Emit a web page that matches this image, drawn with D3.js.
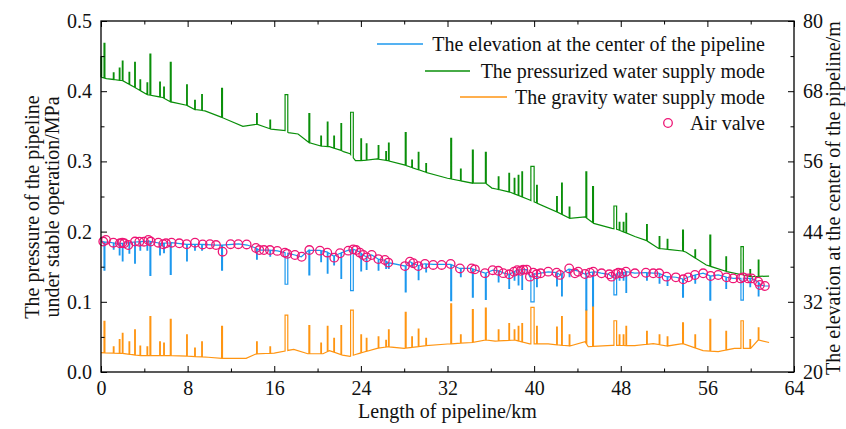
<!DOCTYPE html>
<html>
<head>
<meta charset="utf-8">
<script src="https://cdn.jsdelivr.net/npm/d3@7"></script>
<style>
  html, body { margin: 0; padding: 0; background: #fff; }
  svg { display: block; font-family: 'Liberation Serif', 'Times New Roman', Times, serif; }
  svg text { font-family: 'Liberation Serif', 'Times New Roman', Times, serif; fill: #111; }
</style>
</head>
<body>
<svg id="chart" width="846" height="429"></svg>
<script>
// ---------------- DATA ----------------
const xTicks = [0, 8, 16, 24, 32, 40, 48, 56, 64];
const leftTicks = [0.0, 0.1, 0.2, 0.3, 0.4, 0.5];
const rightTicks = [20, 32, 44, 56, 68, 80];

const legendLabels = [
  "The elevation at the center of the pipeline",
  "The pressurized water supply mode",
  "The gravity water supply mode",
  "Air valve"
];

// crossings (spikes): km position, width (km)
const spikeKm = [0.0, 0.28, 1.14, 1.69, 1.97, 2.59, 3.11, 3.6, 4.25, 4.52, 5.42, 5.79, 6.4, 7.91, 8.65, 9.3, 11.14, 14.37, 15.6, 17.0,
  19.2, 20.3, 20.9, 21.5, 22.16, 23.05, 24.0, 24.5, 25.6, 26.3, 26.55, 28.1, 28.7, 29.3, 30.0, 32.3, 33.2, 34.3, 35.5, 36.69,
  37.67, 38.16, 38.53, 38.87, 39.7, 40.23, 42.08, 42.54, 43.24, 44.78, 45.4, 47.37, 47.86, 48.23, 48.48, 50.39, 51.55, 52.29, 53.71, 54.85,
  56.23, 57.71, 59.1, 59.93, 60.7];
const spikeW = [0.06, 0.08, 0.06, 0.06, 0.06, 0.06, 0.06, 0.06, 0.06, 0.08, 0.06, 0.06, 0.08, 0.06, 0.06, 0.06, 0.08, 0.06, 0.06, 0.25,
  0.08, 0.06, 0.06, 0.06, 0.06, 0.25, 0.06, 0.06, 0.06, 0.06, 0.06, 0.08, 0.06, 0.06, 0.06, 0.08, 0.06, 0.08, 0.08, 0.06,
  0.06, 0.06, 0.06, 0.06, 0.3, 0.06, 0.06, 0.06, 0.06, 0.08, 0.08, 0.25, 0.06, 0.06, 0.06, 0.06, 0.06, 0.06, 0.08, 0.06,
  0.08, 0.06, 0.22, 0.06, 0.06];
// elevation at the dip bottom (m)
const elevDip = [null, 37.4, 41.0, 40.0, 39.0, 40.3, 38.6, 40.85, 40.85, 36.5, 40.0, 40.4, 36.7, 39.0, 40.85, 40.85, 37.4, 39.3, 39.8, 35.0,
  36.6, 38.85, 36.9, 38.3, 36.0, 33.9, 37.3, 37.55, 37.4, 37.7, 37.7, 33.7, 38.0, 35.8, 37.1, 32.2, 36.3, 32.8, 32.4, 35.4,
  34.3, 35.7, 34.9, 34.1, 32.0, 34.6, 34.7, 33.0, 36.3, 30.6, 31.3, 33.2, 35.7, 35.7, 33.6, 35.7, 35.2, 34.8, 32.8, 35.2,
  32.3, 34.3, 32.3, 34.6, 33.0];
// pressurized mode peak (MPa)
const pressPeak = [0.449, 0.468, 0.426, 0.433, 0.443, 0.427, 0.441, 0.416, 0.412, 0.453, 0.413, 0.406, 0.441, 0.409, 0.387, 0.395, 0.404, 0.368, 0.359, 0.395,
  0.368, 0.336, 0.356, 0.336, 0.354, 0.370, 0.332, 0.325, 0.3225, 0.314, 0.326, 0.341, 0.302, 0.313, 0.297, 0.333, 0.289, 0.316, 0.313, 0.278,
  0.283, 0.276, 0.280, 0.285, 0.293, 0.266, 0.250, 0.269, 0.235, 0.285, 0.264, 0.2365, 0.213, 0.213, 0.226, 0.210, 0.193, 0.189, 0.202, 0.174,
  0.195, 0.164, 0.1785, 0.146, 0.1595];
// gravity mode peak (MPa)
const gravPeak = [null, 0.072, 0.036, 0.046, 0.055, 0.043, 0.060, 0.037, 0.036, 0.079, 0.043, 0.041, 0.075, 0.053, 0.034, 0.043, 0.065, 0.043, 0.036, 0.081,
  0.066, 0.041, 0.065, 0.048, 0.066, 0.088, 0.053, 0.048, 0.050, 0.045, 0.060, 0.085, 0.050, 0.061, 0.048, 0.097, 0.053, 0.089, 0.091, 0.060,
  0.069, 0.060, 0.065, 0.069, 0.092, 0.065, 0.064, 0.079, 0.053, 0.088, 0.093, 0.073, 0.053, 0.053, 0.065, 0.058, 0.053, 0.050, 0.070, 0.053,
  0.075, 0.058, 0.073, 0.046, 0.063];

// baselines between crossings: [km, value]
const elevBase = [[0, 42.3], [1.0, 42.1], [2.0, 42.0], [3.0, 42.2], [4.4, 42.4], [5.5, 42.0], [6.5, 42.1], [7.9, 41.8], [9.4, 41.8], [10.6, 41.7],
  [11.2, 41.7], [12.7, 41.9], [13.5, 41.7], [14.3, 41.2], [14.6, 40.85], [15.6, 40.85], [16.3, 40.7], [17.0, 40.4], [17.9, 40.0], [18.5, 39.7],
  [19.2, 40.85], [20.2, 40.8], [20.9, 40.5], [21.5, 39.8], [22.1, 40.3], [22.8, 40.8], [23.3, 41.0], [23.9, 40.5], [24.2, 40.0], [24.5, 39.7],
  [25.0, 40.0], [25.6, 39.3], [26.2, 39.1], [26.5, 38.7], [28.1, 38.1], [28.5, 38.9], [28.8, 38.6], [29.3, 38.2], [29.9, 38.5], [30.7, 38.4],
  [31.5, 38.4], [32.3, 38.4], [33.1, 37.7], [34.2, 37.7], [34.5, 37.5], [35.5, 36.9], [36.2, 37.4], [36.7, 37.3], [37.2, 36.9], [37.7, 36.7],
  [38.1, 37.1], [38.4, 37.4], [39.0, 37.5], [39.3, 37.5], [39.6, 36.3], [39.9, 36.9], [40.2, 36.7], [40.6, 36.9], [41.3, 37.1], [42.1, 37.0],
  [42.4, 36.6], [43.2, 37.6], [44.0, 37.3], [44.7, 36.75], [45.15, 37.0], [45.5, 37.15], [46.2, 36.9], [46.9, 36.7], [47.15, 36.3], [47.6, 36.75],
  [47.8, 37.0], [48.1, 36.9], [48.5, 37.15], [49.3, 36.9], [50.3, 37.0], [51.0, 36.9], [51.5, 36.9], [52.2, 36.3], [53.1, 36.2], [53.8, 35.85],
  [54.2, 36.2], [54.9, 36.6], [55.6, 36.9], [56.3, 36.4], [57.0, 36.6], [57.8, 36.2], [58.4, 36.0], [59.1, 36.0], [59.8, 36.0], [60.1, 36.0],
  [60.7, 35.4], [60.9, 34.9], [61.3, 34.7], [61.7, 34.7]];
const pressBase = [[0, 0.42], [0.5, 0.418], [2.0, 0.415], [3.1, 0.4055], [4.3, 0.395], [5.7, 0.391], [6.4, 0.385], [7.9, 0.380], [8.65, 0.374], [9.6, 0.372],
  [11.1, 0.363], [13.1, 0.350], [14.4, 0.353], [15.7, 0.346], [17.0, 0.344], [17.3, 0.341], [18.2, 0.339], [19.2, 0.327], [20.3, 0.322], [21.1, 0.321],
  [22.1, 0.316], [22.4, 0.314], [23.0, 0.311], [23.5, 0.301], [24.0, 0.301], [25.5, 0.3035], [26.5, 0.301], [28.0, 0.295], [30.0, 0.2845], [32.0, 0.276],
  [34.3, 0.269], [35.5, 0.269], [36.1, 0.262], [36.5, 0.2607], [37.8, 0.256], [39.6, 0.245], [40.2, 0.241], [42.1, 0.228], [43.3, 0.219], [44.7, 0.221],
  [45.5, 0.2117], [47.2, 0.2047], [47.7, 0.203], [49.3, 0.193], [50.4, 0.187], [51.5, 0.176], [53.7, 0.1724], [54.0, 0.171], [55.9, 0.1524], [57.8, 0.143],
  [60.0, 0.1358], [61.7, 0.1367]];
const gravBase = [[0, 0.0275], [2.0, 0.0265], [3.6, 0.0233], [6.5, 0.0233], [8.0, 0.0225], [9.9, 0.021], [11.2, 0.0194], [13.4, 0.0194], [14.3, 0.0256], [16.0, 0.027],
  [17.8, 0.0323], [19.1, 0.026], [20.5, 0.026], [21.1, 0.0304], [22.3, 0.024], [23.0, 0.0223], [23.5, 0.025], [25.5, 0.0337], [26.5, 0.036], [28.0, 0.0337],
  [30.0, 0.0375], [32.0, 0.0399], [34.3, 0.042], [35.5, 0.0456], [36.4, 0.044], [38.2, 0.0456], [39.6, 0.040], [41.3, 0.040], [43.3, 0.037], [44.7, 0.0432],
  [45.0, 0.036], [47.2, 0.038], [49.3, 0.0375], [51.0, 0.0405], [52.3, 0.037], [53.7, 0.0405], [55.6, 0.0304], [57.0, 0.029], [58.5, 0.0337], [60.0, 0.0337],
  [60.7, 0.0456], [61.7, 0.042]];

// air valves: km and elevation (m)
const airKm = [0.21, 0.46, 1.14, 1.75, 1.97, 2.15, 2.52, 3.14, 3.54, 3.97, 4.37, 4.59, 5.29, 5.75, 6.0, 6.52, 7.23, 7.91, 8.68, 9.39,
  10.06, 10.62, 11.23, 11.97, 12.68, 13.45, 14.31, 14.62, 15.05, 15.6, 16.28, 16.99, 17.2, 17.91, 18.53, 19.24, 20.22, 20.9, 21.54, 22.07,
  22.84, 23.3, 23.55, 23.91, 24.22, 24.53, 25.0, 25.61, 26.22, 26.53, 28.07, 28.53, 28.84, 29.3, 29.92, 30.68, 31.46, 32.29, 33.15, 34.23,
  34.53, 35.46, 36.17, 36.69, 37.15, 37.7, 38.14, 38.44, 38.75, 39.0, 39.31, 39.61, 39.92, 40.23, 40.6, 41.3, 42.08, 42.38, 43.24, 43.77,
  44.07, 44.69, 45.15, 45.46, 46.23, 46.94, 47.15, 47.55, 47.77, 48.08, 48.48, 49.31, 50.32, 51.0, 51.55, 52.23, 53.09, 53.77, 54.23, 54.85,
  55.61, 56.3, 57.0, 57.77, 58.38, 59.07, 59.31, 59.77, 60.08, 60.69, 60.85, 61.31];
const airElev = [42.3, 42.56, 42.1, 42.0, 42.1, 42.0, 41.7, 42.3, 42.27, 42.27, 42.56, 42.3, 42.1, 41.85, 42.0, 42.1, 42.0, 41.85, 42.1, 41.8,
  41.85, 41.7, 40.56, 41.85, 41.85, 41.8, 41.2, 40.85, 40.85, 40.85, 40.7, 40.4, 40.2, 40.0, 39.7, 40.85, 40.74, 40.4, 39.55, 40.3,
  40.74, 40.97, 40.85, 40.4, 40.0, 39.6, 40.0, 39.3, 39.15, 38.7, 38.1, 38.86, 38.6, 38.1, 38.46, 38.3, 38.3, 38.46, 37.7, 37.7,
  37.55, 36.9, 37.4, 37.3, 36.9, 36.7, 37.15, 37.4, 37.3, 37.5, 37.5, 36.3, 36.97, 36.7, 36.87, 37.15, 36.97, 36.6, 37.7, 36.87,
  37.15, 36.75, 36.97, 37.15, 36.87, 36.7, 36.3, 36.75, 36.97, 36.87, 37.15, 36.87, 36.97, 36.87, 36.87, 36.3, 36.18, 35.85, 36.18, 36.58,
  36.87, 36.41, 36.58, 36.18, 36.0, 36.0, 36.18, 36.0, 36.0, 35.44, 34.87, 34.7];

// ---------------- CHART ----------------
const W = 846, H = 429;
const m = { left: 101, right: 52, top: 21, bottom: 57 };
const iw = W - m.left - m.right, ih = H - m.top - m.bottom;
const col = { blue: "#1c98ee", green: "#0a8f0a", orange: "#ff9512", pink: "#ee1675" };
const FONT = "'Liberation Serif', 'Times New Roman', Times, serif";
const fontSize = 20;

const svg = d3.select("#chart");
const g = svg.append("g").attr("transform", `translate(${m.left},${m.top})`);

const x = d3.scaleLinear().domain([0, 64]).range([0, iw]);
const yL = d3.scaleLinear().domain([0, 0.5]).range([ih, 0]);
const yR = d3.scaleLinear().domain([20, 80]).range([ih, 0]);

function buildSeries(base, peaks) {
  const f = d3.scaleLinear().domain(base.map(d => d[0])).range(base.map(d => d[1]));
  const sp = spikeKm.map((k, i) => [k, peaks[i], spikeW[i]]).filter(d => d[1] != null).sort((a, b) => a[0] - b[0]);
  const pts = [];
  let bi = 0;
  for (const [k, pk, w] of sp) {
    while (bi < base.length && base[bi][0] < k) { pts.push(base[bi]); bi++; }
    pts.push([k, f(k)], [k, pk], [k + w, pk], [k + w, f(k + w)]);
    while (bi < base.length && base[bi][0] <= k + w) bi++;
  }
  while (bi < base.length) { pts.push(base[bi]); bi++; }
  return pts;
}

// lines
const lineL = d3.line().x(d => x(d[0])).y(d => yL(d[1]));
const lineR = d3.line().x(d => x(d[0])).y(d => yR(d[1]));

g.append("path").datum(buildSeries(gravBase, gravPeak)).attr("d", lineL)
  .attr("fill", "none").attr("stroke", col.orange).attr("stroke-width", 1.2);
g.append("path").datum(buildSeries(pressBase, pressPeak)).attr("d", lineL)
  .attr("fill", "none").attr("stroke", col.green).attr("stroke-width", 1.2);
g.append("path").datum(buildSeries(elevBase, elevDip)).attr("d", lineR)
  .attr("fill", "none").attr("stroke", col.blue).attr("stroke-width", 1.2);

g.append("g").selectAll("circle").data(airKm.map((k, i) => [k, airElev[i]])).join("circle")
  .attr("cx", d => x(d[0])).attr("cy", d => yR(d[1])).attr("r", 4.3)
  .attr("fill", "none").attr("stroke", col.pink).attr("stroke-width", 1.3);

// axes
function styleAxis(sel) {
  sel.attr("font-family", FONT).attr("font-size", fontSize);
  sel.select(".domain").remove();
  sel.selectAll("line").attr("stroke", "#000").attr("stroke-width", 1);
  sel.selectAll("text").attr("font-size", fontSize).attr("fill", "#111").attr("font-family", FONT);
}
const xMinor = d3.range(4, 64, 8);
// bottom
g.append("g").attr("transform", `translate(0,${ih})`)
  .call(d3.axisBottom(x).tickValues(xTicks).tickFormat(d3.format("d")).tickSize(-6).tickPadding(9)).call(styleAxis);
g.append("g").attr("transform", `translate(0,${ih})`)
  .call(d3.axisBottom(x).tickValues(xMinor).tickFormat("").tickSize(-3.5)).call(styleAxis);
// top
g.append("g").call(d3.axisTop(x).tickValues(xTicks).tickFormat("").tickSize(-6)).call(styleAxis);
g.append("g").call(d3.axisTop(x).tickValues(xMinor).tickFormat("").tickSize(-3.5)).call(styleAxis);
// left
g.append("g").call(d3.axisLeft(yL).tickValues(leftTicks).tickFormat(d3.format(".1f")).tickSize(-6).tickPadding(9)).call(styleAxis);
g.append("g").call(d3.axisLeft(yL).tickValues(d3.range(0.05, 0.5, 0.1)).tickFormat("").tickSize(-3.5)).call(styleAxis);
// right
g.append("g").attr("transform", `translate(${iw},0)`)
  .call(d3.axisRight(yR).tickValues(rightTicks).tickFormat(d3.format("d")).tickSize(-6).tickPadding(9)).call(styleAxis);
g.append("g").attr("transform", `translate(${iw},0)`)
  .call(d3.axisRight(yR).tickValues(d3.range(26, 80, 12)).tickFormat("").tickSize(-3.5)).call(styleAxis);

// frame
g.append("rect").attr("width", iw).attr("height", ih).attr("fill", "none").attr("stroke", "#000").attr("stroke-width", 1.3);

// axis titles
function title(t, tr) {
  return svg.append("text").attr("transform", tr).attr("text-anchor", "middle")
    .attr("font-family", FONT).attr("font-size", fontSize).attr("fill", "#111").text(t);
}
title("Length of pipeline/km", `translate(${m.left + iw / 2},418)`);
title("The pressure of the pipeline", "translate(39,207) rotate(-90)");
title("under stable operation/MPa", "translate(59,207) rotate(-90)");
title("The elevation at the center of the pipeline/m", "translate(840,198) rotate(-90)");

// legend
const legendY = [44, 71, 97, 123];
const legendLine = [[377, 423], [425, 470], [460, 507]];
const legendCols = [col.blue, col.green, col.orange];
const lg = svg.append("g");
legendLine.forEach((seg, i) => {
  lg.append("line").attr("x1", seg[0]).attr("x2", seg[1]).attr("y1", legendY[i]).attr("y2", legendY[i])
    .attr("stroke", legendCols[i]).attr("stroke-width", 1.4);
});
lg.append("circle").attr("cx", 668).attr("cy", legendY[3]).attr("r", 4.3)
  .attr("fill", "none").attr("stroke", col.pink).attr("stroke-width", 1.3);
legendLabels.forEach((t, i) => {
  lg.append("text").attr("x", 765).attr("y", legendY[i] + 7).attr("text-anchor", "end")
    .attr("font-family", FONT).attr("font-size", fontSize).attr("fill", "#111").text(t);
});
</script>
</body>
</html>
